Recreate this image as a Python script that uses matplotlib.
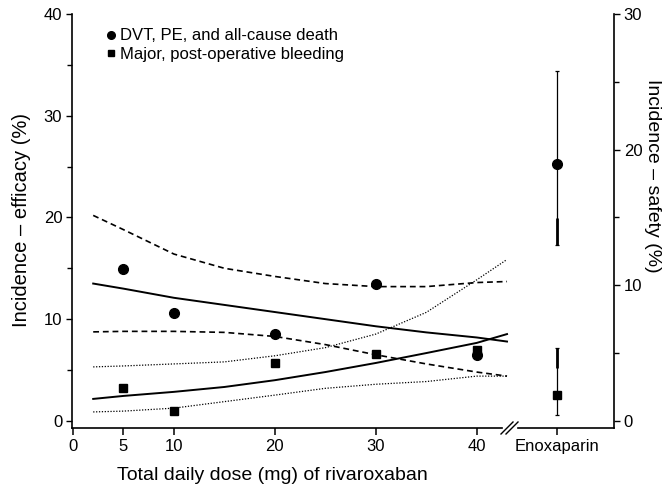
import matplotlib
matplotlib.use('Agg')
import matplotlib.pyplot as plt
from matplotlib.lines import Line2D
from matplotlib.ticker import MultipleLocator

plt.rcParams['font.family'] = ['Liberation Sans', 'DejaVu Sans']

# ---- data ----
doses = [5, 10, 20, 30, 40]
efficacy = [14.9, 10.6, 8.5, 13.5, 6.5]          # % (left axis)
bleeding = [2.4, 0.7, 4.3, 4.9, 5.2]             # % (right axis)

enox_pos = 48
enox_eff = 25.3
enox_eff_lo, enox_eff_hi = 17.3, 34.4
enox_eff_thick = [17.3, 19.9]                    # heavier part of the bar
enox_bleed = 1.9
enox_bleed_lo, enox_bleed_hi = 0.4, 5.4
enox_bleed_thick = [3.9, 5.4]

fit_dose = [2, 5, 10, 15, 20, 25, 30, 35, 40, 43]
eff_fit = [13.5, 13.0, 12.1, 11.4, 10.7, 10.0, 9.3, 8.7, 8.2, 7.8]
eff_upper = [20.2, 18.8, 16.4, 15.0, 14.2, 13.5, 13.2, 13.2, 13.6, 13.7]
eff_lower = [8.75, 8.8, 8.8, 8.7, 8.3, 7.5, 6.5, 5.6, 4.8, 4.4]
safe_fit = [1.62, 1.84, 2.14, 2.5, 3.0, 3.6, 4.27, 5.0, 5.75, 6.4]
safe_upper = [3.98, 4.05, 4.2, 4.35, 4.8, 5.4, 6.4, 8.0, 10.4, 11.9]
safe_lower = [0.66, 0.72, 0.94, 1.42, 1.9, 2.4, 2.7, 2.9, 3.3, 3.3]

xticks = [0, 5, 10, 20, 30, 40, enox_pos]
xticklabels = ['0', '5', '10', '20', '30', '40', 'Enoxaparin']

legend_labels = ['DVT, PE, and all-cause death', 'Major, post-operative bleeding']

# ---- figure ----
W, H = 666, 488
fig = plt.figure(figsize=(W / 100, H / 100), dpi=100)
ax = fig.add_axes([72 / W, 1 - 428 / H, (614 - 72) / W, (428 - 14) / H])
ax2 = ax.twinx()

ax.set_xlim(-0.1, 53.6)
ax.set_ylim(-0.7, 40)
ax2.set_ylim(-0.525, 30)

k = 'black'
dash = (0, (3.5, 2.3))
dot = (0, (1, 1.3))

# efficacy
ax.plot(fit_dose, eff_fit, color=k, lw=1.4)
ax.plot(fit_dose, eff_upper, color=k, lw=1.2, ls=dash)
ax.plot(fit_dose, eff_lower, color=k, lw=1.2, ls=dash)
ax.plot(doses, efficacy, 'o', color=k, ms=7)
ax.errorbar([enox_pos], [enox_eff],
            yerr=[[enox_eff - enox_eff_lo], [enox_eff_hi - enox_eff]],
            fmt='o', color=k, ms=7, elinewidth=0.9, capsize=1.5, capthick=0.9)
ax.vlines([enox_pos], enox_eff_thick[0], enox_eff_thick[1], color=k, lw=2.0)

# safety
ax2.plot(fit_dose, safe_fit, color=k, lw=1.4)
ax2.plot(fit_dose, safe_upper, color=k, lw=0.9, ls=dot)
ax2.plot(fit_dose, safe_lower, color=k, lw=0.9, ls=dot)
ax2.plot(doses, bleeding, 's', color=k, ms=6)
ax2.errorbar([enox_pos], [enox_bleed],
             yerr=[[enox_bleed - enox_bleed_lo], [enox_bleed_hi - enox_bleed]],
             fmt='s', color=k, ms=6, elinewidth=0.9, capsize=1.5, capthick=0.9)
ax2.vlines([enox_pos], enox_bleed_thick[0], enox_bleed_thick[1], color=k, lw=2.0)

# spines
for a in (ax, ax2):
    a.spines['top'].set_visible(False)
    a.spines['bottom'].set_visible(False)
ax.spines['right'].set_visible(False)
ax2.spines['left'].set_visible(False)
ax.spines['left'].set_linewidth(1.2)
ax2.spines['right'].set_linewidth(1.2)

# broken x axis line
tr = ax.transAxes
ax.plot([0, (502 - 72) / 542], [0, 0], color=k, lw=1.2, transform=tr, clip_on=False)
ax.plot([(518 - 72) / 542, 1], [0, 0], color=k, lw=1.2, transform=tr, clip_on=False)
for cx in (507, 512):
    fx = (cx - 72) / 542
    ax.plot([fx - 6 / 542, fx + 6 / 542], [-6 / 414, 6 / 414], color=k, lw=1.0,
            transform=tr, clip_on=False)

# ticks
ax.set_xticks(xticks)
ax.set_xticklabels(xticklabels)
ax.yaxis.set_major_locator(MultipleLocator(10))
ax.yaxis.set_minor_locator(MultipleLocator(5))
ax2.yaxis.set_major_locator(MultipleLocator(10))
ax2.yaxis.set_minor_locator(MultipleLocator(5))
ax.tick_params(axis='x', direction='out', length=5, width=1.1, labelsize=12, pad=3)
ax.tick_params(axis='y', which='major', direction='out', length=4, width=1.0, labelsize=12, pad=3)
ax.tick_params(axis='y', which='minor', direction='out', length=3.5, width=1.0)
ax2.tick_params(axis='y', which='major', direction='out', length=4, width=1.0, labelsize=12, pad=3)
ax2.tick_params(axis='y', which='minor', direction='out', length=3.5, width=1.0)

# labels
fig.text(22 / W, 1 - 220 / H, 'Incidence \u2013 efficacy (%)', rotation=90,
         ha='center', va='center', fontsize=14.5)
fig.text(652 / W, 1 - 176 / H, 'Incidence \u2013 safety (%)', rotation=270,
         ha='center', va='center', fontsize=14)
fig.text(272 / W, 1 - 475 / H, 'Total daily dose (mg) of rivaroxaban',
         ha='center', va='center', fontsize=14)

# legend
handles = [Line2D([], [], marker='o', ls='', color=k, ms=5.5),
           Line2D([], [], marker='s', ls='', color=k, ms=5)]
ax.legend(handles, legend_labels, loc='upper left', bbox_to_anchor=(0.066, 0.965),
          frameon=False, fontsize=12, handlelength=0.4, handletextpad=0.35,
          labelspacing=0.19, borderaxespad=0, borderpad=0)

fig.savefig('out.png', dpi=100)
